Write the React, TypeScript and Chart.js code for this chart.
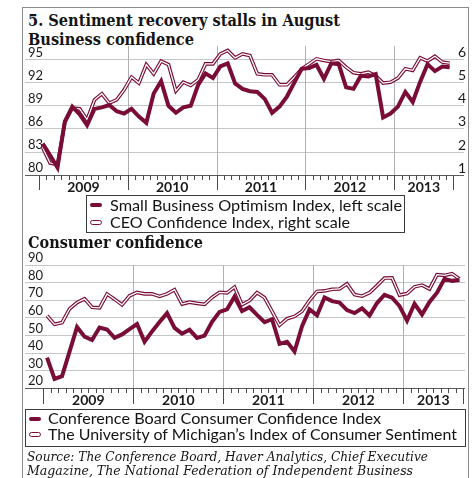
import React, { useEffect, useLayoutEffect, useRef } from 'react';
import { Chart, registerables } from 'chart.js';

Chart.register(...registerables);

// ---------- data ----------
const years = ['2009', '2010', '2011', '2012', '2013'];
const monthNames = ['Jan', 'Feb', 'Mar', 'Apr', 'May', 'Jun', 'Jul', 'Aug', 'Sep', 'Oct', 'Nov', 'Dec'];
const monthsInLastYear = 8;
const months: string[] = years.flatMap((y, yi) =>
  monthNames.slice(0, yi === years.length - 1 ? monthsInLastYear : 12).map((m) => `${m} ${y}`)
);

// Small Business Optimism Index (left scale)
const smallBusinessOptimism = [
  84.1, 82.6, 81.0, 87.0, 88.9, 87.9, 86.5, 88.6, 88.8, 89.1, 88.3, 88.0,
  88.6, 87.6, 86.8, 90.6, 92.2, 89.0, 88.1, 88.8, 89.0, 91.7, 93.2, 92.6,
  94.1, 94.5, 91.9, 91.2, 90.9, 90.8, 89.9, 88.1, 88.9, 90.2, 92.0, 93.8,
  93.9, 94.3, 92.5, 94.5, 94.4, 91.4, 91.2, 92.9, 92.8, 93.1, 87.5, 88.0,
  88.9, 90.8, 89.5, 92.1, 94.4, 93.5, 94.1, 94.0,
];
// CEO Confidence Index (right scale)
const ceoConfidence = [
  2.19, 1.53, 1.47, 3.3, 3.9, 3.87, 3.4, 4.26, 4.52, 4.12, 4.26, 4.69,
  5.24, 4.98, 5.78, 5.38, 5.93, 5.78, 4.64, 5.02, 4.88, 5.12, 5.81, 5.81,
  6.24, 6.39, 6.07, 6.24, 6.17, 5.38, 5.34, 5.34, 4.91, 4.91, 5.24, 5.6,
  5.81, 6.03, 5.96, 5.91, 5.96, 5.67, 5.43, 5.38, 5.45, 5.3, 4.98, 5.02,
  5.2, 5.6, 5.53, 6.07, 5.93, 6.14, 5.89, 5.84,
];
// Conference Board Consumer Confidence Index
const conferenceBoard = [
  37.4, 25.3, 26.9, 40.8, 54.8, 49.3, 47.4, 54.5, 53.4, 48.7, 50.6, 53.6,
  56.5, 46.4, 52.3, 57.7, 62.7, 54.3, 51.0, 53.2, 48.6, 49.9, 57.8, 63.4,
  64.8, 72.0, 63.8, 66.0, 61.7, 57.6, 59.2, 45.2, 46.4, 40.9, 55.2, 64.8,
  61.5, 71.6, 69.5, 68.7, 64.4, 62.7, 65.4, 61.3, 68.4, 73.1, 71.5, 66.7,
  58.4, 68.0, 61.9, 69.0, 74.3, 82.1, 81.0, 81.5,
];
// University of Michigan Index of Consumer Sentiment
const michiganSentiment = [
  61.2, 56.3, 57.3, 65.1, 68.7, 70.8, 66.0, 65.7, 73.5, 70.6, 67.4, 72.5,
  74.4, 73.6, 73.6, 72.2, 73.6, 76.0, 67.8, 68.9, 68.2, 67.7, 71.6, 74.5,
  74.2, 77.5, 67.5, 69.8, 74.3, 71.5, 63.7, 55.8, 59.5, 60.8, 63.7, 69.9,
  75.0, 75.3, 76.2, 76.4, 79.3, 73.2, 72.3, 74.3, 78.3, 82.6, 82.7, 72.9,
  73.8, 77.6, 78.6, 76.4, 84.5, 84.1, 85.1, 82.1,
];

const businessLeftTicks = [80, 83, 86, 89, 92, 95];
const businessRightTicks = [1, 2, 3, 4, 5, 6];
const consumerTicks = [20, 30, 40, 50, 60, 70, 80, 90];

const legendBusiness = ['Small Business Optimism Index, left scale', 'CEO Confidence Index, right scale'];
const legendConsumer = ['Conference Board Consumer Confidence Index', 'The University of Michigan\u2019s Index of Consumer Sentiment'];

// ---------- styles ----------
const DARK = '#7a0d37';
const SANS = "Lato, 'Open Sans', sans-serif";
const SERIF = "'DejaVu Serif', serif";

Chart.defaults.font.family = SANS;

const toPts = (arr: number[]) => arr.map((v, i) => ({ x: i, y: v }));

function monthAxis(opts: { short: number; long: number; labelDy: number }) {
  return {
    id: 'monthAxis',
    beforeDatasetsDraw(chart: any) {
      const { ctx, chartArea, scales } = chart;
      const xs = scales.x;
      ctx.save();
      ctx.strokeStyle = '#b0b0b0';
      ctx.lineWidth = 1;
      ctx.beginPath();
      for (let k = 12; k < months.length; k += 12) {
        const x = Math.round(xs.getPixelForValue(k - 0.5)) + 0.5;
        ctx.moveTo(x, chartArea.top);
        ctx.lineTo(x, chartArea.bottom);
      }
      ctx.stroke();
      ctx.restore();
    },
    afterDraw(chart: any) {
      const { ctx, chartArea, scales } = chart;
      const xs = scales.x;
      const base = Math.round(chartArea.bottom);
      ctx.save();
      ctx.strokeStyle = '#4a4a4a';
      ctx.lineWidth = 1;
      ctx.beginPath();
      for (let k = 0; k <= months.length; k++) {
        const x = Math.round(xs.getPixelForValue(k - 0.5)) + 0.5;
        const isLong = k % 12 === 0 || k === months.length;
        ctx.moveTo(x, base);
        ctx.lineTo(x, base + (isLong ? opts.long : opts.short));
      }
      ctx.stroke();
      ctx.fillStyle = '#1a1a1a';
      ctx.font = `bold 14px ${SANS}`;
      ctx.textAlign = 'center';
      ctx.textBaseline = 'middle';
      years.forEach((y, i) => {
        const a = xs.getPixelForValue(i * 12 - 0.5);
        const b = xs.getPixelForValue(Math.min((i + 1) * 12, months.length) - 0.5);
        ctx.fillText(y, (a + b) / 2, base + opts.labelDy);
      });
      ctx.restore();
    },
  };
}

function yAxis(ticksArr: number[], min: number, max: number, position: 'left' | 'right', padding: number, fontSize: number, showGrid: boolean) {
  return {
    position,
    min,
    max,
    afterBuildTicks: (axis: any) => {
      axis.ticks = ticksArr.map((v) => ({ value: v }));
    },
    grid: {
      display: showGrid,
      drawTicks: false,
      lineWidth: 1,
      color: (c: any) => (c.tick && c.tick.value === min ? '#5a5a5a' : '#c6c6c6'),
    },
    border: { display: false },
    ticks: {
      mirror: true,
      autoSkip: false,
      padding,
      labelOffset: -7,
      color: '#1a1a1a',
      font: { size: fontSize },
    },
  };
}

function FitText(props: { text: string; left: number; top: number; width: number; font: string; size: number; color?: string }) {
  const ref = useRef<HTMLSpanElement>(null);
  useLayoutEffect(() => {
    const el = ref.current;
    if (!el) return;
    el.style.transform = 'none';
    const w = el.getBoundingClientRect().width;
    if (w > 0) el.style.transform = `scaleX(${props.width / w})`;
  }, [props.text, props.width, props.font]);
  return (
    <span
      ref={ref}
      style={{
        position: 'absolute',
        left: props.left,
        top: props.top,
        whiteSpace: 'nowrap',
        transformOrigin: '0 0',
        font: props.font,
        lineHeight: `${props.size}px`,
        color: props.color || '#141414',
      }}
    >
      {props.text}
    </span>
  );
}

function Swatch(props: { left: number; cy: number; hollow?: boolean }) {
  return props.hollow ? (
    <div style={{ position: 'absolute', left: props.left, top: props.cy - 2.5, width: 12, height: 5, boxSizing: 'border-box', border: `1.3px solid ${DARK}`, borderRadius: 2.5, background: '#fff' }} />
  ) : (
    <div style={{ position: 'absolute', left: props.left, top: props.cy - 2, width: 12, height: 4, background: DARK, borderRadius: 2 }} />
  );
}

export default function App() {
  const topRef = useRef<HTMLCanvasElement>(null);
  const botRef = useRef<HTMLCanvasElement>(null);

  useEffect(() => {
    const common = {
      animation: false as const,
      responsive: false,
      devicePixelRatio: 1,
      events: [] as any[],
      plugins: { legend: { display: false }, tooltip: { enabled: false } },
      elements: { point: { radius: 0 }, line: { tension: 0 } },
    };

    const top = new Chart(topRef.current!, {
      type: 'line',
      data: {
        datasets: [
          { label: legendBusiness[0], data: toPts(smallBusinessOptimism), borderColor: DARK, borderWidth: 4, yAxisID: 'y' },
          { label: legendBusiness[1] + ' (inner)', data: toPts(ceoConfidence), borderColor: '#ffffff', borderWidth: 1.3, yAxisID: 'y2' },
          { label: legendBusiness[1], data: toPts(ceoConfidence), borderColor: DARK, borderWidth: 3.6, yAxisID: 'y2' },
        ],
      },
      options: {
        ...common,
        layout: { padding: { left: 19, right: 8, top: 12, bottom: 22.7 } },
        scales: {
          x: { type: 'linear', min: -2.39, max: 56.93, display: false },
          y: yAxis(businessLeftTicks, 80, 96.75, 'left', 3, 13, true) as any,
          y2: yAxis(businessRightTicks, 1, 6.583, 'right', 2, 14, false) as any,
        },
      } as any,
      plugins: [monthAxis({ short: 5, long: 15, labelDy: 12.3 })],
    });

    const bot = new Chart(botRef.current!, {
      type: 'line',
      data: {
        datasets: [
          { label: legendConsumer[0], data: toPts(conferenceBoard), borderColor: DARK, borderWidth: 4 },
          { label: legendConsumer[1] + ' (inner)', data: toPts(michiganSentiment), borderColor: '#ffffff', borderWidth: 1.3 },
          { label: legendConsumer[1], data: toPts(michiganSentiment), borderColor: DARK, borderWidth: 3.6 },
        ],
      },
      options: {
        ...common,
        layout: { padding: { left: 19, right: 11, top: 15, bottom: 21.7 } },
        scales: {
          x: { type: 'linear', min: -2.94, max: 55.73, display: false },
          y: yAxis(consumerTicks, 20, 90, 'left', 3, 13, true) as any,
        },
      } as any,
      plugins: [monthAxis({ short: 5, long: 16, labelDy: 12.8 })],
    });

    return () => {
      top.destroy();
      bot.destroy();
    };
  }, []);

  const titleFont = `bold 17px ${SERIF}`;
  const legFont = `16px ${SANS}`;
  const srcFont = `italic 13px ${SERIF}`;

  return (
    <div style={{ position: 'fixed', left: 0, top: 0, width: 476, height: 478, overflow: 'hidden', background: '#fff' }}>
      <div style={{ position: 'absolute', left: 22, top: 7, width: 447, height: 520, border: '1px solid #8c8c8c', boxSizing: 'border-box' }} />

      <FitText text="5. Sentiment recovery stalls in August" left={27.5} top={12.3} width={312} font={titleFont} size={17} />
      <FitText text="Business confidence" left={27.5} top={30.6} width={166} font={titleFont} size={17} />

      <canvas ref={topRef} width={476} height={164} style={{ position: 'absolute', left: 0, top: 34, width: 476, height: 164, display: 'block' }} />

      <div style={{ position: 'absolute', left: 86, top: 195, width: 319, height: 38, boxSizing: 'border-box', border: '1px solid #3a3a3a' }} />
      <Swatch left={90} cy={205} />
      <Swatch left={90} cy={222.5} hollow />
      <FitText text={legendBusiness[0]} left={110} top={196.5} width={292} font={legFont} size={16} />
      <FitText text={legendBusiness[1]} left={110} top={213.5} width={240} font={legFont} size={16} />

      <FitText text="Consumer confidence" left={28.3} top={233.9} width={175} font={titleFont} size={17} />

      <canvas ref={botRef} width={476} height={160} style={{ position: 'absolute', left: 0, top: 250, width: 476, height: 160, display: 'block' }} />

      <div style={{ position: 'absolute', left: 25, top: 409, width: 441, height: 38, boxSizing: 'border-box', border: '1px solid #3a3a3a' }} />
      <Swatch left={28.5} cy={419.3} />
      <Swatch left={28.5} cy={434.3} hollow />
      <FitText text={legendConsumer[0]} left={47.7} top={409.8} width={333} font={legFont} size={16} />
      <FitText text={legendConsumer[1]} left={47.7} top={425.8} width={409} font={legFont} size={16} />

      <FitText text="Source: The Conference Board, Haver Analytics, Chief Executive" left={27.3} top={449.5} width={401} font={srcFont} size={13} />
      <FitText text="Magazine, The National Federation of Independent Business" left={27.3} top={464} width={386} font={srcFont} size={13} />
    </div>
  );
}
